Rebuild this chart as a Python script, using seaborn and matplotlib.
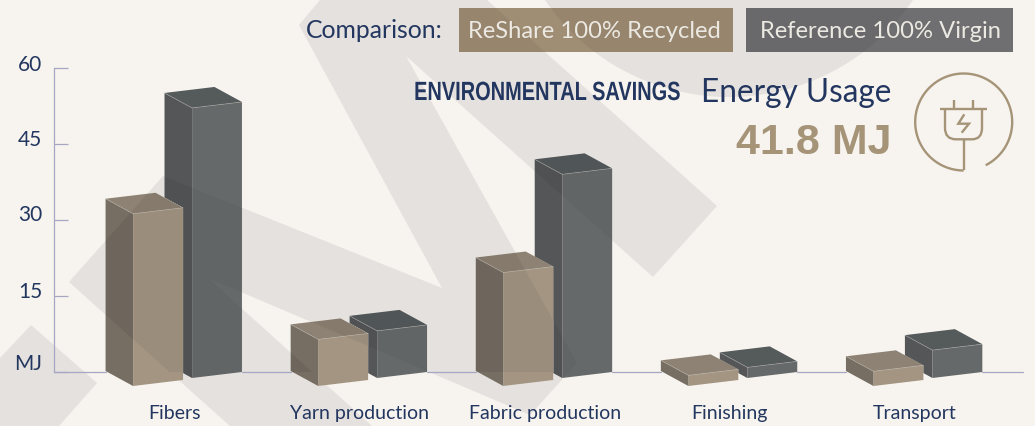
import numpy as np
import pandas as pd
import seaborn as sns
import matplotlib
matplotlib.use("Agg")
import matplotlib.pyplot as plt
from matplotlib.patches import Polygon, Circle, Rectangle, PathPatch
from matplotlib.lines import Line2D
from matplotlib.path import Path
from matplotlib.patheffects import AbstractPathEffect
from matplotlib.transforms import Affine2D, IdentityTransform

categories = ["Fibers", "Yarn production", "Fabric production", "Finishing", "Transport"]
recycled = [34.0, 9.2, 22.4, 2.1, 2.9]
virgin = [53.3, 9.3, 40.2, 2.1, 5.5]
series_names = ["ReShare 100% Recycled", "Reference 100% Virgin"]
y_ticks = [0, 15, 30, 45, 60]
y_labels = ["MJ", "15", "30", "45", "60"]

W, H = 1035, 426
BG = "#f7f4ef"
BAND = "#e4e1de"
NAVY = "#22365f"
GOLD = "#a59478"
AXIS = "#a7a7c4"

sns.set_style("white")
plt.rcParams["font.family"] = ["Lato", "DejaVu Sans"]

fig = plt.figure(figsize=(W / 100, H / 100), dpi=100, facecolor=BG)
PX = Affine2D().scale(1, -1).translate(0, H)


class Narrow(AbstractPathEffect):
    """Squeeze glyphs horizontally about a display x, for a condensed look."""

    def __init__(self, x0, sx):
        super().__init__()
        self.x0, self.sx = x0, sx

    def draw_path(self, renderer, gc, tpath, affine, rgbFace=None):
        sq = Affine2D().translate(-self.x0, 0).scale(self.sx, 1).translate(self.x0, 0)
        renderer.draw_path(gc, tpath, affine + sq, rgbFace)


# watermark in the backdrop
band_pts = [(320, 0), (299, 25), (442, 288), (163, 176), (69, 282), (230, 426), (372, 426),
            (208, 278), (530, 415), (577, 363), (406, 56), (653, 277), (717, 206), (487, 0)]
fig.add_artist(Polygon(band_pts, closed=True, fc=BAND, ec="none", transform=PX, zorder=-3))
fig.add_artist(Polygon([(0, 358), (31, 325), (97, 383), (59, 426), (0, 426)], closed=True,
                       fc=BAND, ec="none", transform=PX, zorder=-3))
fig.add_artist(Circle((729, -126), 223, fc=BAND, ec="none", transform=PX, zorder=-3))

# key boxes
fig.add_artist(Rectangle((459, 8), 274, 44, fc=(89/255, 58/255, 16/255), alpha=.55, ec="none", transform=PX, zorder=-2))
fig.add_artist(Rectangle((746, 8), 267, 44, fc=(53/255, 55/255, 60/255), alpha=.7, ec="none", transform=PX, zorder=-2))


def T(x, y, s, **kw):
    return fig.text(x, y, s, transform=PX, va="center", **kw)


T(306, 31, "Comparison:", fontsize=17.8, color=NAVY, ha="left")
T(468, 31, series_names[0], fontsize=17.1, color="#ece9e3", ha="left")
T(760, 31, series_names[1], fontsize=17.1, color="#ece9e3", ha="left")
env = T(680, 93, "ENVIRONMENTAL SAVINGS", fontsize=19, color=NAVY, ha="right", fontweight="bold",
        family=["Liberation Sans"])
env.set_path_effects([Narrow(680, 0.757)])
T(891, 93, "Energy Usage", fontsize=22.7, color=NAVY, ha="right")
T(891, 143, "41.8 MJ", fontsize=31, color=GOLD, ha="right", fontweight="bold", family=["Liberation Sans"])

# axes: y 0..60 spans px 372..68, x categories centred at 175 + 185.1 i
ax = fig.add_axes([54 / W, (H - 372) / H, (1023 - 54) / W, (372 - 68) / H])
ax.patch.set_visible(False)
df = pd.DataFrame({
    "category": categories * 2,
    "MJ": recycled + virgin,
    "series": [series_names[0]] * 5 + [series_names[1]] * 5,
})
sns.barplot(data=df, x="category", y="MJ", hue="series", order=categories,
            hue_order=series_names, palette=[(107/255, 86/255, 57/255), (54/255, 59/255, 60/255)],
            saturation=1, width=0.637, gap=0.153, legend=False, ax=ax)
ax.set_xlim((54 - 175.5) / 185.1, (1023 - 175.5) / 185.1)
ax.set_ylim(0, 60)
ax.set_xlabel("")
ax.set_ylabel("")
ax.set_yticks(y_ticks, y_labels)
ax.tick_params(axis="y", direction="in", length=10, width=0.9, color=AXIS, pad=8.6,
               labelsize=15, labelcolor=NAVY, left=True)
ax.tick_params(axis="x", length=0, pad=24, labelsize=14, labelcolor=NAVY)
for sp in ["top", "right", "bottom"]:
    ax.spines[sp].set_visible(False)
ax.spines["left"].set_color(AXIS)
ax.spines["left"].set_linewidth(0.9)
for lab, dy in zip(ax.get_yticklabels(), [8, 4, 5, 4, 3]):
    lab.set_verticalalignment("center")
    lab.set_transform(lab.get_transform() + Affine2D().translate(0, dy))
for lab in ax.get_xticklabels():
    lab.set_transform(lab.get_transform() + Affine2D().translate(-1, 0))

fig.canvas.draw()
ID = IdentityTransform()
DX, SHIFT_K = 12, 0.12
DEPTH = np.array([-27.5, 15.0])
styles = [
    dict(drop=14, alpha=.6, side=(32/255, 21/255, 5/255), top=(70/255, 54/255, 32/255), z=5),
    dict(drop=6, alpha=.75, side=(30/255, 33/255, 36/255), top=(31/255, 38/255, 42/255), z=3),
]
spans = []
for cont, st in zip(ax.containers, styles):
    for bar in cont:
        x0, w, h = bar.get_x(), bar.get_width(), bar.get_height()
        (px0, py0), (px1, py1) = ax.transData.transform([(x0, 0), (x0 + w, h)])
        k = SHIFT_K
        m = Affine2D(np.array([[1, 0, DX], [k, 1, -st["drop"] - k * px0], [0, 0, 1]], float))
        bar.set_transform(ax.transData + m)
        bar.set_clip_on(False)
        bar.set_alpha(st["alpha"])
        bar.set_edgecolor("none")
        bar.set_zorder(st["z"])
        fl = np.array(m.transform((px0, py0)))
        fr = np.array(m.transform((px1, py0)))
        flt = np.array(m.transform((px0, py1)))
        frt = np.array(m.transform((px1, py1)))
        bl, blt, brt = fl + DEPTH, flt + DEPTH, frt + DEPTH
        if st["z"] == 5:
            # tan blocks stand in front of the grey ones: clear what lies behind them
            sil = [bl, blt, brt, frt, fr, fl]
            hole = Polygon(sil, closed=True, fc=BG, ec="none", transform=ID, zorder=4, clip_on=False)
            ax.add_patch(hole)
            under = Polygon(band_pts, closed=True, fc=BAND, ec="none", transform=PX, zorder=4.2)
            ax.add_patch(under)
            under.set_clip_path(Polygon(sil, closed=True, transform=ID))
        ax.add_patch(Polygon([fl, flt, blt, bl], closed=True, fc=st["side"], alpha=st["alpha"],
                             ec="none", transform=ID, zorder=st["z"], clip_on=False))
        ax.add_patch(Polygon([flt, frt, brt, blt], closed=True, fc=st["top"], alpha=st["alpha"],
                             ec="none", transform=ID, zorder=st["z"], clip_on=False))
        for a, b, la in [(flt, frt, .45), (flt, blt, .45), (flt, fl, .18), (frt, fr, .18)]:
            ax.add_line(Line2D([a[0], b[0]], [a[1], b[1]], color="#d8d4cc", lw=0.5, alpha=la,
                               transform=ID, zorder=st["z"] + .5, clip_on=False))
        spans.append((bl[0], fr[0]))

# baseline: only the stretches between the blocks
lefts = [s[0] for s in spans[:5]]
rights = [s[1] for s in spans[5:]]
ax0 = ax.transData.transform((ax.get_xlim()[0], 0))
ax1 = ax.transData.transform((ax.get_xlim()[1], 0))
starts = [ax0[0]] + rights
ends = lefts + [ax1[0]]
for a, b in zip(starts, ends):
    ax.add_line(Line2D([a, b], [ax0[1], ax0[1]], color=AXIS, lw=0.9, transform=ID, zorder=2, clip_on=False))

# plug icon
ic = dict(color=GOLD, lw=1.7, transform=PX, solid_capstyle="butt", solid_joinstyle="miter")
th = np.radians(np.linspace(90, 360 + 63, 120))
cx, cy, r = 963.7, 122, 48.5
fig.add_artist(Line2D(cx + r * np.cos(th), cy + r * np.sin(th), **ic))
fig.add_artist(Line2D([940, 987], [109, 109], **ic))
fig.add_artist(Line2D([953.7, 953.7], [99.7, 109], **ic))
fig.add_artist(Line2D([973.3, 973.3], [99.7, 109], **ic))
fig.add_artist(Line2D([964, 964], [139, 170], **ic))
body = Path([(945, 109), (945, 128), (945, 139.3), (956, 139.3), (972, 139.3), (982, 139.3), (982, 128), (982, 109)],
            [Path.MOVETO, Path.LINETO, Path.CURVE3, Path.CURVE3, Path.LINETO, Path.CURVE3, Path.CURVE3, Path.LINETO])
fig.add_artist(PathPatch(body, fc="none", ec=GOLD, lw=1.7, transform=PX))
fig.add_artist(Line2D([964.3, 958.3, 969, 961.7], [114.3, 123.7, 123.7, 132.7], **ic))

fig.savefig("out.png", dpi=100, facecolor=BG)
